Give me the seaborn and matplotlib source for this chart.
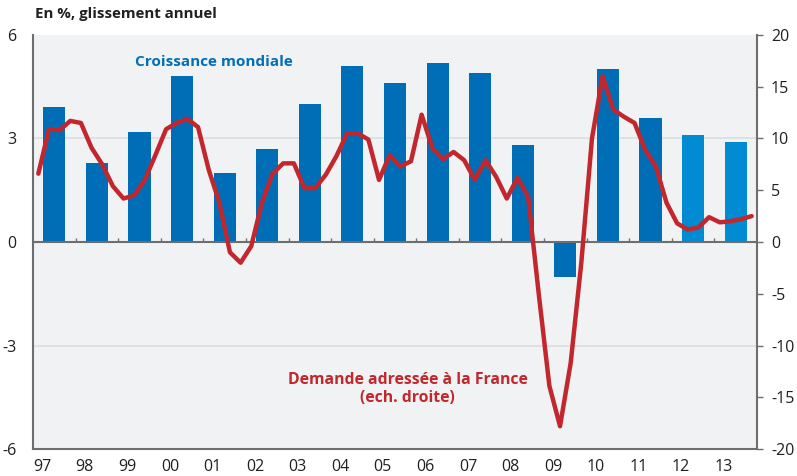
import numpy as np
import pandas as pd
import matplotlib
matplotlib.use("Agg")
import matplotlib.pyplot as plt
import seaborn as sns

# world growth, annual (left axis)
years = list(range(1997, 2014))
year_labels = ["97", "98", "99", "00", "01", "02", "03", "04", "05", "06",
               "07", "08", "09", "10", "11", "12", "13"]
croissance = [3.9, 2.3, 3.2, 4.8, 2.0, 2.7, 4.0, 5.1, 4.6, 5.2,
              4.9, 2.8, -1.0, 5.0, 3.6, 3.1, 2.9]
prevision = [False] * 15 + [True, True]

# demande adressee a la France, quarterly (right axis)
demande = [6.6, 10.9, 10.8, 11.7,
           11.5, 9.1, 7.5, 5.4,
           4.2, 4.5, 6.0, 8.4,
           10.9, 11.5, 11.9, 11.1,
           7.0, 3.8, -1.0, -2.0,
           -0.4, 3.8, 6.6, 7.6,
           7.6, 5.2, 5.2, 6.5,
           8.3, 10.5, 10.5, 9.9,
           6.0, 8.4, 7.3, 7.8,
           12.3, 9.1, 8.0, 8.7,
           7.9, 6.0, 7.9, 6.3,
           4.2, 6.2, 4.4, -5.0,
           -13.9, -17.8, -11.7, -2.0,
           10.0, 16.0, 12.8, 12.1,
           11.5, 8.9, 7.3, 3.8,
           1.8, 1.2, 1.4, 2.4,
           1.9, 2.0, 2.2, 2.5]

BLUE = "#006EB7"
LIGHT_BLUE = "#008BD2"
RED = "#C1272D"
GREY = "#6D6E70"

plt.rcParams["font.family"] = ["Open Sans", "DejaVu Sans"]
plt.rcParams["axes.unicode_minus"] = False

df_bar = pd.DataFrame({"annee": np.array(years) + 0.5,   # bar sits in the middle of the year
                       "croissance": croissance,
                       "prev": prevision})
quarters = np.repeat(years, 4) + (np.tile(np.arange(4), len(years)) + 0.5) / 4
df_line = pd.DataFrame({"t": quarters, "demande": demande})

fig = plt.figure(figsize=(7.97, 4.76), dpi=100)
ax = fig.add_axes([0.0414, 0.0567, 0.9084, 0.8698])
ax.set_facecolor("#F1F2F4")

sns.barplot(data=df_bar, x="annee", y="croissance", hue="prev",
            palette={False: BLUE, True: LIGHT_BLUE}, native_scale=True,
            width=0.52, legend=False, saturation=1, ax=ax, zorder=2)

ax.set_xlim(1997, 2014)
ax.set_ylim(-6, 6)
ax.set_yticks([-6, -3, 0, 3, 6])
ax.set_yticklabels(["-6", "-3", "0", "3", "6"])
ax.set_xticks(years)
ax.set_xticklabels(year_labels, ha="left")
ax.tick_params(axis="x", length=0, pad=7, labelsize=11.5, colors="#231F20")
ax.tick_params(axis="y", length=0, pad=12, labelsize=11.5, colors="#231F20")
ax.set_xlabel("")
ax.set_ylabel("")

# light grid at +/-3
for g in [-3, 3]:
    ax.axhline(g, color="#DCDDDF", lw=1.2, zorder=1)
ax.axhline(0, color=GREY, lw=1.5, zorder=3)

# small year marks on the zero line
ax.vlines(years[1:], 0, 0.13, color=GREY, lw=1, zorder=3)

for s in ["top", "right"]:
    ax.spines[s].set_visible(False)
for s in ["left", "bottom"]:
    ax.spines[s].set_color(GREY)
    ax.spines[s].set_linewidth(1.5)

ax2 = ax.twinx()
sns.lineplot(data=df_line, x="t", y="demande", color=RED, lw=3.2, ax=ax2,
             solid_joinstyle="round", solid_capstyle="round")
ax2.set_ylim(-20, 20)
ax2.set_yticks([-20, -15, -10, -5, 0, 5, 10, 15, 20])
ax2.set_yticklabels(["-20", "-15", "-10", "-5", "0", "5", "10", "15", "20"])
ax2.tick_params(axis="y", length=4, width=1, color=GREY, pad=6, labelsize=11.5,
                labelcolor="#231F20")
ax2.set_xlim(1997, 2014)
ax2.set_ylabel("")
ax2.set_xlabel("")
for s in ["top", "left", "bottom"]:
    ax2.spines[s].set_visible(False)
ax2.spines["right"].set_color(GREY)
ax2.spines["right"].set_linewidth(1.5)

ax.text(2001.25, 5.22, "Croissance mondiale", color=BLUE, fontsize=11,
        fontweight="bold", ha="center", va="center")
ax.text(2005.8, -4.25, "Demande adressée à la France\n(ech. droite)", color=RED,
        fontsize=11.3, fontweight="bold", ha="center", va="center", linespacing=1.15)

fig.text(0.044, 0.971, "En %, glissement annuel", fontsize=10.8, fontweight="bold",
         color="#231F20", va="center", ha="left")

plt.savefig("out.png", dpi=100)
